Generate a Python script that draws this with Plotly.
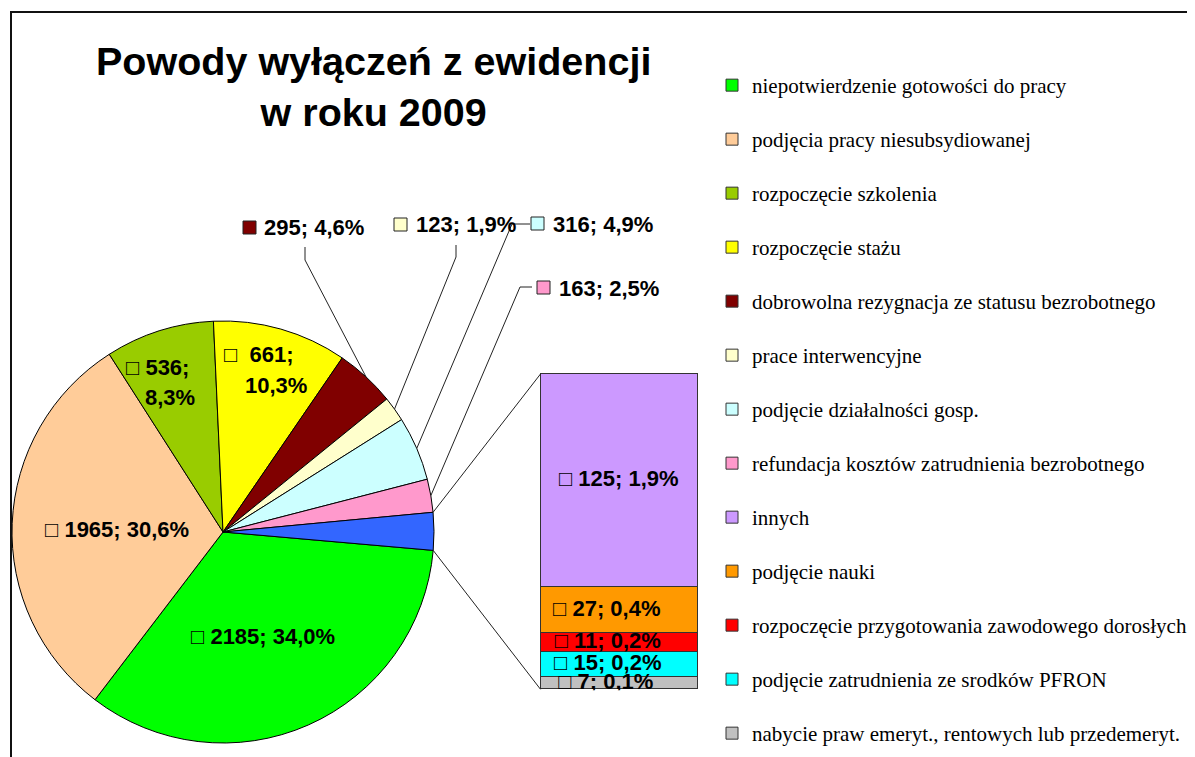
import math
import plotly.graph_objects as go

W, H = 1195, 757
OFF = 8  # page body margin added by the browser

# ---------------- data ----------------
title_lines = ["Powody wyłączeń z ewidencji", "w roku 2009"]

pie_labels = [
    "niepotwierdzenie gotowości do pracy",
    "podjęcia pracy niesubsydiowanej",
    "rozpoczęcie szkolenia",
    "rozpoczęcie stażu",
    "dobrowolna rezygnacja ze statusu bezrobotnego",
    "prace interwencyjne",
    "podjęcie działalności gosp.",
    "refundacja kosztów zatrudnienia bezrobotnego",
]
pie_values = [2185, 1965, 536, 661, 295, 123, 316, 163]
pie_colors = ["#00FF00", "#FFCC99", "#99CC00", "#FFFF00", "#800000",
              "#FFFFCC", "#CCFFFF", "#FF99CC"]

other_label = "pozostałe"
other_color = "#3366FF"

bar_labels = [
    "innych",
    "podjęcie nauki",
    "rozpoczęcie przygotowania zawodowego dorosłych",
    "podjęcie zatrudnienia ze srodków PFRON",
    "nabycie praw emeryt., rentowych lub przedemeryt.",
]
bar_values = [125, 27, 11, 15, 7]
bar_colors = ["#CC99FF", "#FF9900", "#FF0000", "#00FFFF", "#C0C0C0"]

# ---------------- derived ----------------
other_value = sum(bar_values)
all_values = pie_values + [other_value]
total = sum(all_values)


def pct(v):
    return f"{100 * v / total:.1f}".replace(".", ",")


def lab(v):
    return f"{v}; {pct(v)}%"


def px(x):
    return (x - OFF) / W


def py(y):
    return 1 - (y - OFF) / H


# geometry (pixels in the screenshot)
CX, CY, R = 223, 532, 211
ROT = 95
BAR_L, BAR_R, BAR_T, BAR_B = 540.5, 697.0, 374.0, 689.3
bar_label_dx = [0, -12, -11, -11, -13]  # label offsets from bar centre, px

LBL_FONT = dict(family="Liberation Sans", size=22, color="black")
LINE_COL = "#222222"

fig = go.Figure()

# pie
fig.add_trace(go.Pie(
    labels=pie_labels + [other_label],
    values=all_values,
    marker=dict(colors=pie_colors + [other_color], line=dict(color="black", width=1)),
    sort=False, direction="clockwise", rotation=ROT,
    textinfo="none", showlegend=False,
    domain=dict(x=[px(CX - R), px(CX + R)], y=[py(CY + R), py(CY - R)]),
))

# legend entries for pie slices
for i, (l, c) in enumerate(zip(pie_labels, pie_colors)):
    fig.add_trace(go.Bar(
        x=[None], y=[None], name=l, legendgroup=l, legendrank=i + 1,
        marker=dict(color=c, line=dict(color="#333333", width=1)),
        showlegend=True,
    ))

# stacked bar (bottom first)
n = len(bar_values)
for i in reversed(range(n)):
    fig.add_trace(go.Bar(
        x=[0], y=[bar_values[i]], width=1, name=bar_labels[i],
        legendgroup=bar_labels[i], legendrank=len(pie_labels) + i + 1,
        marker=dict(color=bar_colors[i], line=dict(color="#333333", width=1)),
        showlegend=True,
    ))

# bar segment labels
kx = 1.0 / (BAR_R - BAR_L)
ky = other_value / (BAR_B - BAR_T)
mids = [sum(bar_values[i + 1:]) + bar_values[i] / 2 for i in range(n)]
fig.add_trace(go.Scatter(
    x=[d * kx for d in bar_label_dx], y=mids, mode="text",
    text=[f"<b>□ {lab(v)}</b>" for v in bar_values],
    textposition="middle center", textfont=LBL_FONT,
    cliponaxis=True, showlegend=False, hoverinfo="skip",
))

# axes for bar
fig.update_layout(
    xaxis=dict(domain=[px(BAR_L - 1), px(BAR_R + 1)], range=[-0.5 - kx, 0.5 + kx],
               visible=False, fixedrange=True),
    yaxis=dict(domain=[py(BAR_B + 1), py(BAR_T - 1)], range=[-ky, other_value + ky],
               visible=False, fixedrange=True),
    barmode="stack", bargap=0,
)

shapes = []


def pt(a, r=R):
    return (CX + r * math.sin(math.radians(a)), CY - r * math.cos(math.radians(a)))


def seg(p0, p1, col=LINE_COL, w=1):
    shapes.append(dict(type="line", xref="paper", yref="paper",
                       x0=px(p0[0]), y0=py(p0[1]), x1=px(p1[0]), y1=py(p1[1]),
                       line=dict(color=col, width=w)))


# slice angles
angles = []
a = ROT
for v in all_values:
    a1 = a + 360 * v / total
    angles.append((a, a1))
    a = a1

# connectors pie -> bar
oa0, oa1 = angles[-1]
seg(pt(oa0), (BAR_L, BAR_T))
seg(pt(oa1), (BAR_L, BAR_B))

# outside labels for small slices: (slice index, square corner, text x, text y, leader path)
outside = [
    (4, (243, 221), 262, 228, [(305, 247), (305, 260)]),
    (5, (394, 218), 414, 225, [(456, 245), (456, 257)]),
    (6, (531, 217), 551, 224, [(530, 224), (512, 224)]),
    (7, (537, 281), 557, 288, [(532, 287), (520, 287)]),
]
annotations = []
for idx, sq, tx, ty, path in outside:
    mid = sum(angles[idx]) / 2
    pts = path + [pt(mid)]
    for p0, p1 in zip(pts[:-1], pts[1:]):
        seg(p0, p1)
    shapes.append(dict(type="rect", xref="paper", yref="paper",
                       x0=px(sq[0]), y0=py(sq[1] + 13), x1=px(sq[0] + 13), y1=py(sq[1]),
                       fillcolor=pie_colors[idx], line=dict(color="#222222", width=1)))
    annotations.append(dict(text=f"<b>{lab(pie_values[idx])}</b>", xref="paper", yref="paper",
                            x=px(tx), y=py(ty), xanchor="left", yanchor="middle",
                            showarrow=False, font=LBL_FONT))

# inside labels: (text, center x, center y)
inside = [
    (f"□ {lab(pie_values[0])}", 263, 636),
    (f"□ {lab(pie_values[1])}", 117, 529),
    (f"□ {pie_values[2]};", 157, 367),
    (f"{pct(pie_values[2])}%", 170, 397),
    (f"□  {pie_values[3]};", 259, 355),
    (f"{pct(pie_values[3])}%", 276, 386),
]
for t, x, y in inside:
    annotations.append(dict(text=f"<b>{t}</b>", xref="paper", yref="paper",
                            x=px(x), y=py(y), xanchor="center", yanchor="middle",
                            showarrow=False, font=LBL_FONT))

# title
annotations.append(dict(text="<b>" + "<br>".join(title_lines) + "</b>",
                        xref="paper", yref="paper", x=px(373), y=py(86),
                        xanchor="center", yanchor="middle", showarrow=False,
                        font=dict(family="Liberation Sans", size=39.5, color="black")))

# frame
seg((10, 12), (1203, 12), col="#111111", w=2)
seg((11, 12), (11, 765), col="#111111", w=2)

fig.update_layout(
    width=W, height=H,
    margin=dict(l=0, r=0, t=0, b=0),
    paper_bgcolor="white", plot_bgcolor="rgba(0,0,0,0)",
    shapes=shapes, annotations=annotations,
    legend=dict(x=px(712), y=py(65), xanchor="left", yanchor="top",
                font=dict(family="Liberation Serif", size=21, color="black"),
                traceorder="grouped", tracegroupgap=23.7,
                bgcolor="rgba(0,0,0,0)"),
)

fig.write_html("out.html")
